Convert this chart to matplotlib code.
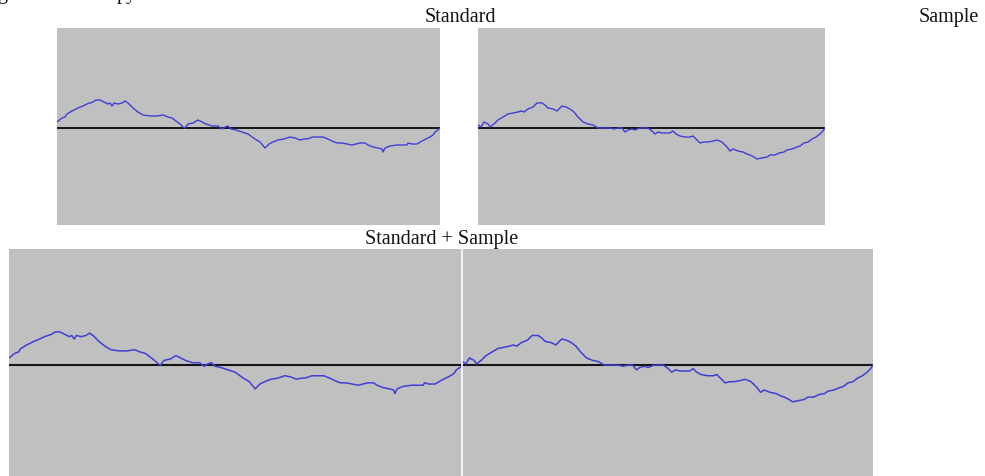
import matplotlib
matplotlib.use("Agg")
import matplotlib.pyplot as plt

# ---------------- data ----------------
# Standard waveform: time (samples) and amplitude
std_t = [0, 5, 8, 10, 15, 21, 26, 30, 33, 36, 39, 43, 47, 51, 53, 55, 57, 61, 65, 68,
         71, 76, 81, 86, 93, 100, 106, 111, 115, 119, 123, 126, 128, 131, 136, 141, 145, 149, 155, 161,
         165, 168, 171, 174, 179, 185, 191, 198, 203, 208, 212, 216, 221, 227, 233, 238, 243, 247, 250, 256,
         261, 266, 271, 275, 280, 285, 290, 295, 299, 303, 308, 311, 316, 321, 325, 326, 328, 333, 340, 346,
         350, 351, 355, 360, 365, 369, 373, 376, 378, 381, 383]
std_v = [0.06, 0.10, 0.11, 0.14, 0.17, 0.20, 0.22, 0.24, 0.25, 0.26, 0.28, 0.28, 0.26, 0.24, 0.25, 0.22, 0.25, 0.24, 0.25, 0.27,
         0.25, 0.20, 0.16, 0.13, 0.12, 0.12, 0.13, 0.11, 0.10, 0.07, 0.04, 0.01, 0.00, 0.04, 0.05, 0.08, 0.06, 0.04, 0.02, 0.02,
         -0.01, 0.01, 0.02, -0.01, -0.02, -0.04, -0.06, -0.11, -0.14, -0.20, -0.16, -0.14, -0.12, -0.11, -0.09, -0.10, -0.12, -0.11, -0.11, -0.09,
         -0.09, -0.09, -0.11, -0.13, -0.15, -0.15, -0.16, -0.17, -0.16, -0.15, -0.15, -0.17, -0.19, -0.20, -0.21, -0.24, -0.20, -0.18, -0.17, -0.17,
         -0.17, -0.15, -0.16, -0.16, -0.13, -0.11, -0.09, -0.07, -0.04, -0.02, 0.00]

# Sample waveform: time (samples) and amplitude
smp_t = [0, 3, 6, 8, 10, 12, 16, 20, 25, 30, 35, 40, 43, 46, 50, 55, 59, 64, 67, 70,
         75, 79, 82, 84, 88, 92, 96, 100, 105, 110, 115, 120, 127, 132, 136, 140, 144, 147, 150, 154,
         157, 162, 167, 170, 174, 177, 180, 184, 188, 192, 195, 198, 202, 207, 212, 215, 219, 222, 226, 230,
         235, 239, 244, 249, 252, 255, 260, 265, 269, 272, 276, 279, 284, 289, 292, 297, 301, 306, 309, 314,
         319, 322, 326, 330, 334, 338, 342, 345, 347]
smp_v = [0.03, 0.01, 0.06, 0.05, 0.04, 0.01, 0.04, 0.08, 0.11, 0.14, 0.15, 0.16, 0.17, 0.16, 0.19, 0.21, 0.25, 0.25, 0.23, 0.20,
         0.19, 0.17, 0.20, 0.22, 0.21, 0.19, 0.16, 0.11, 0.06, 0.04, 0.03, 0.00, 0.00, 0.00, -0.01, 0.00, 0.00, -0.04, -0.02, -0.01,
         -0.02, 0.00, 0.00, 0.00, -0.03, -0.06, -0.04, -0.05, -0.05, -0.05, -0.03, -0.06, -0.08, -0.09, -0.09, -0.08, -0.12, -0.15, -0.14, -0.14,
         -0.13, -0.12, -0.14, -0.19, -0.23, -0.21, -0.23, -0.24, -0.26, -0.27, -0.29, -0.31, -0.30, -0.29, -0.27, -0.27, -0.25, -0.24, -0.22, -0.21,
         -0.19, -0.18, -0.15, -0.14, -0.11, -0.09, -0.06, -0.03, 0.00]

titles = ["Standard", "Sample", "Standard + Sample"]
cut_text = ["g", "py"]

# ---------------- styling ----------------
W, H = 985, 476
BG = "#c0c0c0"
WAVE = "#3f3fd4"
BASE = "#151515"
FONT = ["Liberation Serif", "DejaVu Serif"]

fig = plt.figure(figsize=(W / 100, H / 100), dpi=100)
fig.patch.set_facecolor("white")


def ax_px(left, top, width, height):
    return fig.add_axes([left / W, (H - top - height) / H, width / W, height / H])


def style(ax):
    ax.set_facecolor(BG)
    for s in ax.spines.values():
        s.set_visible(False)
    ax.set_xticks([])
    ax.set_yticks([])


# top-left: Standard
ax1 = ax_px(57, 28, 383, 197)
style(ax1)
ax1.axhline(0, color=BASE, lw=1.4, zorder=2)
ax1.plot(std_t, std_v, color=WAVE, lw=1.0, zorder=3)
ax1.set_xlim(0, std_t[-1])
ax1.set_ylim(-0.97, 1.0)

# top-right: Sample
ax2 = ax_px(478, 28, 347, 197)
style(ax2)
ax2.axhline(0, color=BASE, lw=1.4, zorder=2)
ax2.plot(smp_t, smp_v, color=WAVE, lw=1.0, zorder=3)
ax2.set_xlim(0, smp_t[-1])
ax2.set_ylim(-0.97, 1.0)

# bottom: Standard + Sample (concatenated)
offset = std_t[-1]
comb_t = list(std_t) + [t + offset for t in smp_t]
comb_v = list(std_v) + list(smp_v)
ax3 = ax_px(9, 249, 864, 231)
style(ax3)
ax3.axhline(0, color=BASE, lw=1.5, zorder=2)
ax3.plot(comb_t, comb_v, color=WAVE, lw=1.1, zorder=3)
ax3.axvline(offset, color="white", lw=1.2, zorder=4)
ax3.set_xlim(0, comb_t[-1])
ax3.set_ylim(-0.97, 0.98)


# titles
def ftext(x, ybase, s, ha="center", size=14.5):
    fig.text(x / W, (H - ybase) / H, s, ha=ha, va="baseline",
             fontsize=size, family=FONT, color="#111111")


ftext(460, 22, titles[0])
ftext(949, 22, titles[1])
ftext(442, 244, titles[2])
ftext(-3, -1, cut_text[0], ha="left")
ftext(117, -1, cut_text[1], ha="left")

fig.savefig("out.png", dpi=100, facecolor="white")
